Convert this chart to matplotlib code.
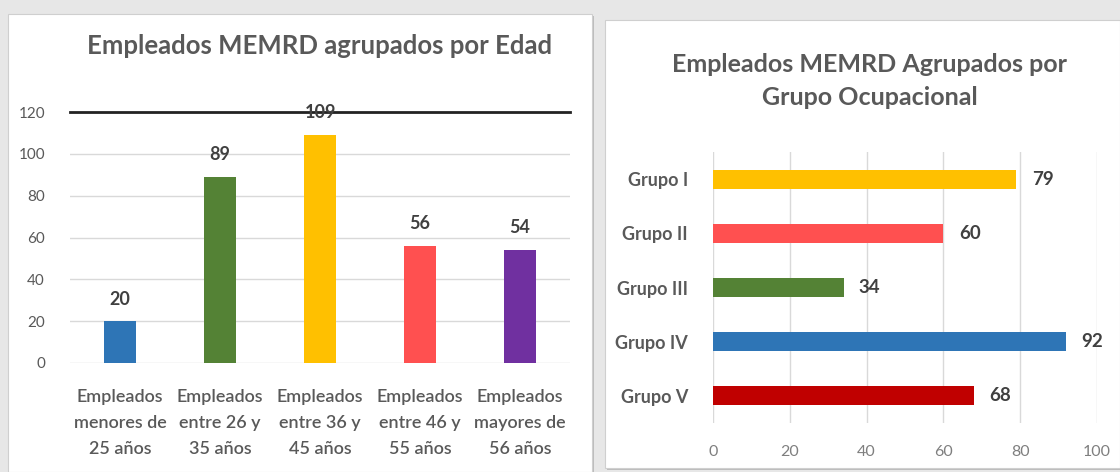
import matplotlib.pyplot as plt
from matplotlib.patches import Rectangle

plt.rcParams['font.family'] = ['Lato', 'DejaVu Sans']

edad_labels = ['Empleados\nmenores de\n25 años', 'Empleados\nentre 26 y\n35 años',
               'Empleados\nentre 36 y\n45 años', 'Empleados\nentre 46 y\n55 años',
               'Empleados\nmayores de\n56 años']
edad_values = [20, 89, 109, 56, 54]
edad_colors = ['#2e75b6', '#548235', '#ffc000', '#ff5050', '#7030a0']

grupo_labels = ['Grupo I', 'Grupo II', 'Grupo III', 'Grupo IV', 'Grupo V']
grupo_values = [79, 60, 34, 92, 68]
grupo_colors = ['#ffc000', '#ff5050', '#548235', '#2e75b6', '#c00000']

texto = '#595959'

fig = plt.figure(figsize=(11.2, 4.72), dpi=100)
fig.patch.set_facecolor('#e7e7e7')

# paneles blancos con sombra
for x0, y0, w, h in [(8/1120, 0, 584/1120, 458/472), (605/1120, 4/472, 515/1120, 448/472)]:
    fig.patches.append(Rectangle((x0 + 0.002, y0 - 0.004), w, h, transform=fig.transFigure,
                                 facecolor='#bdbdbd', edgecolor='none', zorder=-3))
    fig.patches.append(Rectangle((x0, y0), w, h, transform=fig.transFigure,
                                 facecolor='white', edgecolor='#cfcfcf', lw=0.8, zorder=-2))

# izquierda
ax1 = fig.add_axes([70/1120, 1 - 363/472, 500/1120, 251/472])
ax1.set_facecolor('none')
x = range(len(edad_values))
ax1.bar(x, edad_values, width=0.32, color=edad_colors, zorder=3)
ax1.set_xlim(-0.5, 4.5)
ax1.set_ylim(0, 120)
ax1.set_yticks(range(0, 121, 20))
ax1.yaxis.grid(True, color='#d9d9d9', lw=1, zorder=0)
ax1.axhline(120, color='#222222', lw=2, zorder=4, clip_on=False)
for s in ['top', 'right', 'left', 'bottom']:
    ax1.spines[s].set_visible(False)
ax1.tick_params(length=0, colors=texto)
ax1.tick_params(axis='y', labelsize=11, pad=18)
ax1.set_xticks(list(x))
ax1.set_xticklabels(edad_labels, fontsize=13, color=texto, linespacing=1.75,
                    fontweight='semibold')
ax1.tick_params(axis='x', pad=19)
for i, v in enumerate(edad_values):
    ax1.text(i, v + 6.5, str(v), ha='center', va='bottom', fontsize=13,
             fontweight='bold', color='#404040', zorder=5)
fig.text(320/1120, 1 - 46/472, 'Empleados MEMRD agrupados por Edad', ha='center', va='center',
         fontsize=18.5, fontweight='bold', color=texto)

# derecha
ax2 = fig.add_axes([713/1120, 1 - 423/472, 384/1120, 271/472])
ax2.set_facecolor('none')
y = range(len(grupo_values))
ax2.barh(y, grupo_values, height=0.35, color=grupo_colors, zorder=3)
ax2.set_ylim(4.5, -0.5)
ax2.set_xlim(0, 100)
ax2.set_xticks(range(0, 101, 20))
ax2.xaxis.grid(True, color='#d9d9d9', lw=1, zorder=0)
for s in ['top', 'right', 'left', 'bottom']:
    ax2.spines[s].set_visible(False)
ax2.set_yticks(list(y))
ax2.set_yticklabels(grupo_labels, fontsize=13, fontweight='bold', color=texto)
ax2.tick_params(length=0)
ax2.tick_params(axis='y', pad=18)
ax2.tick_params(axis='x', labelsize=11.5, colors='#7f7f7f', pad=16)
for i, v in enumerate(grupo_values):
    ax2.text(v + 4, i, str(v), ha='left', va='center', fontsize=13.5,
             fontweight='bold', color='#404040', zorder=5)
fig.text(870/1120, 1 - 81/472, 'Empleados MEMRD Agrupados por\nGrupo Ocupacional', ha='center',
         va='center', fontsize=18, fontweight='bold', color=texto, linespacing=1.55)

fig.savefig('out.png', dpi=100, facecolor=fig.get_facecolor())
